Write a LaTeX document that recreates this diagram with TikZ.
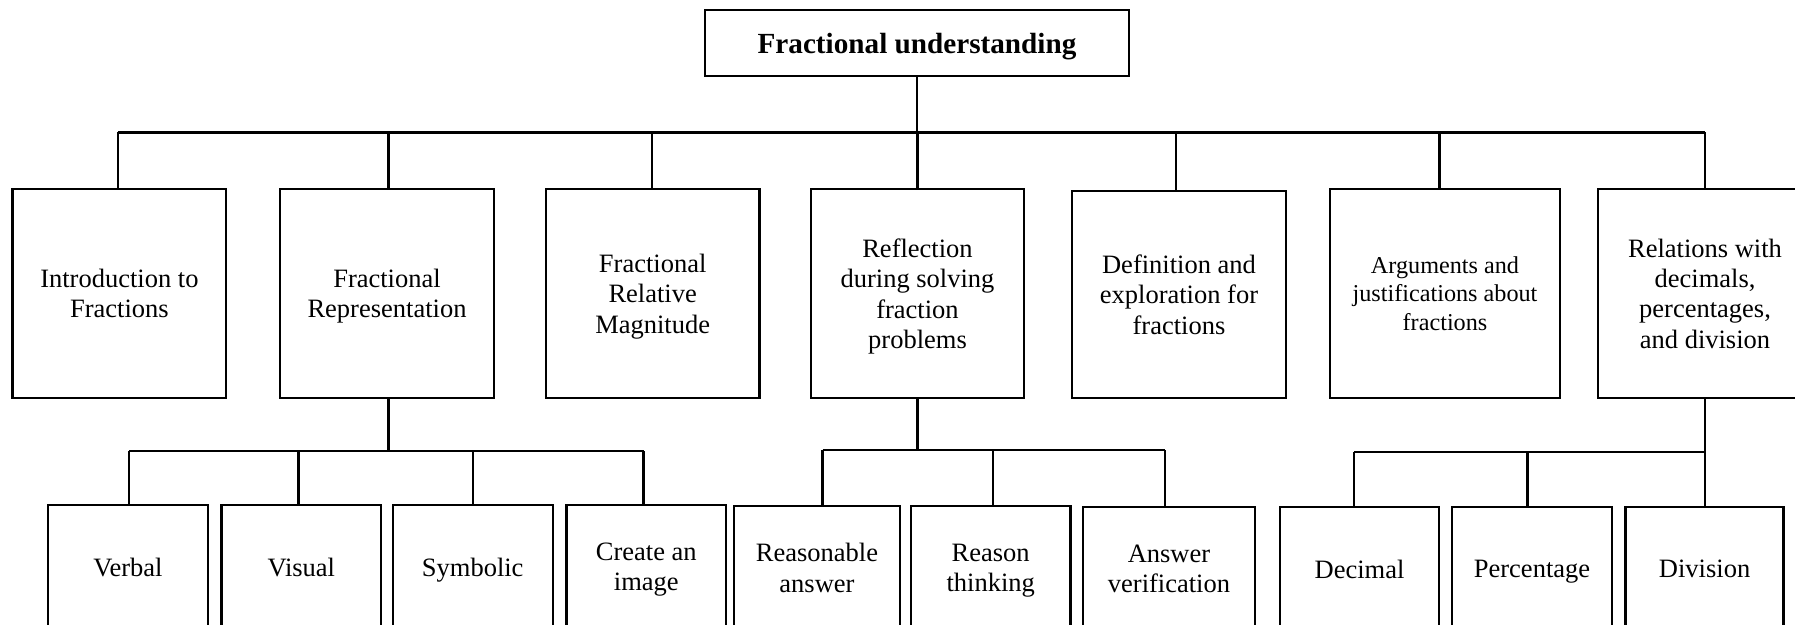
\documentclass[tikz,border=0pt]{standalone}
\usepackage{fontspec}
\setmainfont{Liberation Serif}
\begin{document}
\begin{tikzpicture}[x=0.5pt,y=-0.5pt,line width=1.15pt,
  box/.style={draw,line width=1.15pt,align=center,inner sep=0pt,text depth=0pt,
    font=\fontsize{13.25}{15.2}\selectfont},
  topbox/.style={box,minimum width=212pt,minimum height=33pt,
    font=\fontsize{14.6}{17}\selectfont\bfseries},
  lvlone/.style={box,minimum height=104.5pt},
  lvltwo/.style={box,minimum height=62pt},
  smalltext/.style={font=\fontsize{12.1}{14.3}\selectfont},
  conn/.style={draw,line width=1.15pt}
]
\useasboundingbox (0,0) rectangle (1795,625);
\clip (0,0) rectangle (1795,625);
\fill[white] (0,0) rectangle (1795,625);

% top
\node[topbox] (top) at (917,43) {Fractional understanding};

% level one
\node[lvlone,minimum width=106.8pt] (intro) at (119.4,293.5) {Introduction to\\Fractions};
\node[lvlone,minimum width=106.9pt] (rep) at (387,293.5) {Fractional\\Representation};
\node[lvlone,minimum width=106.8pt] (mag) at (652.7,293.5) {Fractional\\Relative\\Magnitude};
\node[lvlone,minimum width=106.5pt] (refl) at (917.5,293.5) {Reflection\\during solving\\fraction\\problems};
\node[lvlone,minimum width=107pt,minimum height=103.5pt] (def) at (1179,294.5) {Definition and\\exploration for\\fractions};
\node[lvlone,minimum width=115pt,smalltext] (arg) at (1445,293.5) {Arguments and\\justifications about\\fractions};
\node[lvlone,minimum width=107pt] (rel) at (1705,293.5) {Relations with\\decimals,\\percentages,\\and division};

% level two
\node[lvltwo,minimum width=80pt] (verbal) at (128,567) {Verbal};
\node[lvltwo,minimum width=79.7pt] (visual) at (301.3,567) {Visual};
\node[lvltwo,minimum width=80pt] (symbolic) at (472.7,567) {Symbolic};
\node[lvltwo,minimum width=79.7pt] (create) at (646.3,567) {Create an\\image};
\node[lvltwo,minimum width=83pt] (reasonable) at (817,568) {Reasonable\\answer};
\node[lvltwo,minimum width=79.7pt] (reason) at (990.7,568) {Reason\\thinking};
\node[lvltwo,minimum width=86pt] (answer) at (1169,569) {Answer\\verification};
\node[lvltwo,minimum width=79.5pt] (decimal) at (1359.5,569) {Decimal};
\node[lvltwo,minimum width=80pt] (percentage) at (1532,569) {Percentage};
\node[lvltwo,minimum width=79pt] (division) at (1704.6,569) {Division};

% main bus
\coordinate (bus) at (0,132.5);
\path[conn] (top.south) -- (top.south |- bus);
\foreach \n/\s in {intro/-0.75,rep/0.8,mag/-0.5,refl/0,def/-1.65,arg/-2.7,rel/0}{
  \coordinate (d\n) at ([xshift=\s pt]\n.north);
  \path[conn] (d\n) -- (d\n |- bus);
}
\path[conn] (dintro |- bus) -- (drel |- bus);

% representation group
\coordinate (busA) at (0,451);
\coordinate (urep) at ([xshift=0.8pt]rep.south);
\path[conn] (urep) -- (urep |- busA);
\foreach \n/\s in {verbal/0.5,visual/-1.4,symbolic/0,create/-1.4}{
  \coordinate (d\n) at ([xshift=\s pt]\n.north);
  \path[conn] (d\n) -- (d\n |- busA);
}
\path[conn] (dverbal |- busA) -- (dcreate |- busA);

% reflection group
\coordinate (busB) at (0,450);
\path[conn] (refl.south) -- (refl.south |- busB);
\foreach \n/\s in {reasonable/2.8,reason/1,answer/-2}{
  \coordinate (d\n) at ([xshift=\s pt]\n.north);
  \path[conn] (d\n) -- (d\n |- busB);
}
\path[conn] (dreasonable |- busB) -- (danswer |- busB);

% relations group
\coordinate (busC) at (0,452);
\path[conn] (rel.south) -- (rel.south |- busC);
\foreach \n/\s in {decimal/-2.75,percentage/-2.2,division/0.2}{
  \coordinate (d\n) at ([xshift=\s pt]\n.north);
  \path[conn] (d\n) -- (d\n |- busC);
}
\path[conn] (ddecimal |- busC) -- (ddivision |- busC);
\end{tikzpicture}
\end{document}
